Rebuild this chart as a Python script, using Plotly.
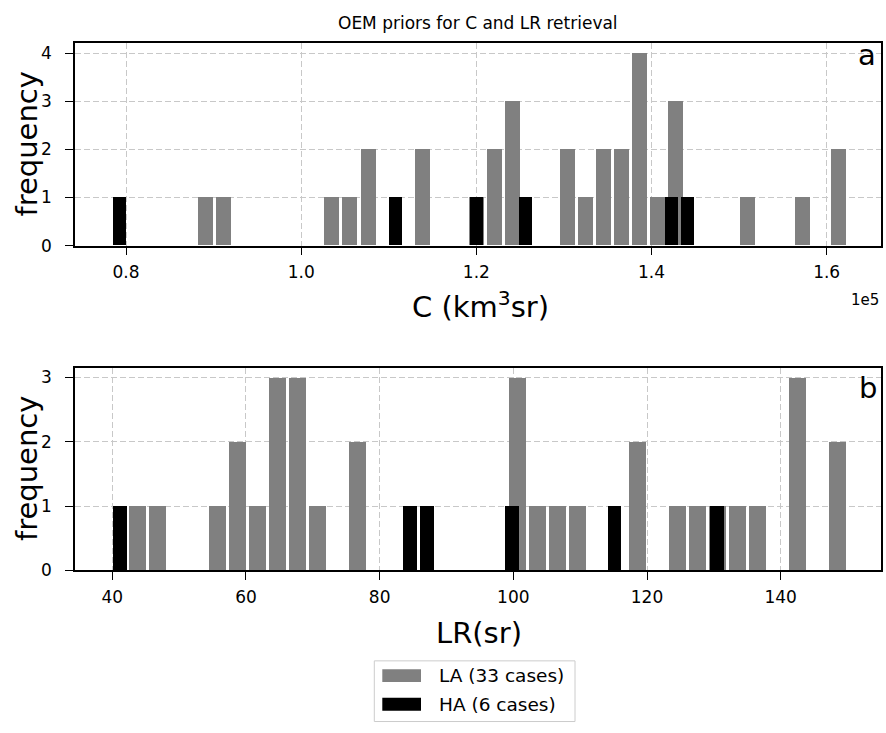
import plotly.graph_objects as go

# ---- histogram bins (bin centre, count) ----
# C (km^3 sr), LA cases
c_la_centers = [89040, 91110, 103500, 105560, 107630, 113830, 120020, 122080, 124150,
                130350, 132410, 134480, 136540, 138610, 140670, 142740, 151000, 157190, 161320]
c_la_counts = [1, 1, 1, 1, 2, 2, 1, 2, 3, 2, 1, 2, 2, 4, 1, 3, 1, 1, 2]
# C (km^3 sr), HA cases
c_ha_centers = [79280, 110760, 120020, 125580, 142250, 144100]
c_ha_counts = [1, 1, 1, 1, 1, 1]

# LR (sr), LA cases
lr_la_centers = [43.74, 46.73, 55.71, 58.70, 61.69, 64.68, 67.68, 70.67, 76.65, 100.59,
                 103.58, 106.57, 109.56, 118.54, 124.52, 127.52, 130.51, 133.50, 136.49,
                 142.48, 148.46]
lr_la_counts = [1, 1, 1, 2, 1, 3, 3, 1, 2, 3, 1, 1, 1, 2, 1, 1, 1, 1, 1, 3, 2]
# LR (sr), HA cases
lr_ha_centers = [41.15, 84.52, 87.07, 99.82, 115.13, 130.44]
lr_ha_counts = [1, 1, 1, 1, 1, 1]

c_ticks = [80000, 100000, 120000, 140000, 160000]
c_ticktext = ["0.8", "1.0", "1.2", "1.4", "1.6"]
lr_ticks = [40, 60, 80, 100, 120, 140]

la_label = "LA (33 cases)"
ha_label = "HA (6 cases)"

# ---- styling ----
W, H = 886, 733
FONT = "DejaVu Sans"
GREY = "#808080"
BLACK = "#000000"
GRID = "#c8c8c8"
TICK_SIZE = 17
LABEL_SIZE = 29

# bar widths in data units (a fraction of each bin's width)
C_LA_W, C_HA_W = 1714, 1519
LR_LA_W, LR_HA_W = 2.50, 2.02


def px_x(x):
    return x / W


def px_y(y):
    return 1 - y / H


fig = go.Figure()

fig.add_trace(go.Bar(x=c_la_centers, y=c_la_counts, width=[C_LA_W] * len(c_la_centers),
                     marker=dict(color=GREY, line=dict(width=0)), name=la_label,
                     xaxis="x", yaxis="y", showlegend=False))
fig.add_trace(go.Bar(x=c_ha_centers, y=c_ha_counts, width=[C_HA_W] * len(c_ha_centers),
                     marker=dict(color=BLACK, line=dict(width=0)), name=ha_label,
                     xaxis="x", yaxis="y", showlegend=False))
fig.add_trace(go.Bar(x=lr_la_centers, y=lr_la_counts, width=[LR_LA_W] * len(lr_la_centers),
                     marker=dict(color=GREY, line=dict(width=0)), name=la_label,
                     xaxis="x2", yaxis="y2", showlegend=False))
fig.add_trace(go.Bar(x=lr_ha_centers, y=lr_ha_counts, width=[LR_HA_W] * len(lr_ha_centers),
                     marker=dict(color=BLACK, line=dict(width=0)), name=ha_label,
                     xaxis="x2", yaxis="y2", showlegend=False))

axis_common = dict(
    showline=True, linecolor="black", linewidth=1.6, mirror=True,
    ticks="outside", ticklen=8, tickwidth=1.4, tickcolor="black",
    showgrid=True, gridcolor=GRID, gridwidth=1.4, griddash="6px,3px",
    zeroline=False, tickfont=dict(family=FONT, size=TICK_SIZE, color="black"),
)

x_dom = [px_x(75), px_x(880.7)]

fig.update_layout(
    width=W, height=H,
    margin=dict(l=0, r=0, t=0, b=0),
    paper_bgcolor="white", plot_bgcolor="white",
    barmode="overlay", bargap=0,
    font=dict(family=FONT, color="black"),
    xaxis=dict(domain=x_dom, anchor="y", range=[74170, 166170],
               tickvals=c_ticks, ticktext=c_ticktext, ticklabelstandoff=2, **axis_common),
    yaxis=dict(domain=[px_y(249), px_y(44)], anchor="x", range=[0, 4.2],
               tickvals=[0, 1, 2, 3, 4], ticklabelstandoff=10, **axis_common),
    xaxis2=dict(domain=x_dom, anchor="y2", range=[34.42, 154.96],
                tickvals=lr_ticks, ticklabelstandoff=2, **axis_common),
    yaxis2=dict(domain=[px_y(578.3), px_y(372.7)], anchor="x2", range=[0, 3.15],
                tickvals=[0, 1, 2, 3], ticklabelstandoff=10, **axis_common),
)

ann = []


def text(x, y, s, size, xanchor="center", yanchor="middle", angle=0):
    ann.append(dict(x=px_x(x), y=px_y(y), xref="paper", yref="paper", text=s,
                    showarrow=False, xanchor=xanchor, yanchor=yanchor, textangle=angle,
                    font=dict(family=FONT, size=size, color="black")))


text(478, 23, "OEM priors for C and LR retrieval", 17)
text(480, 309, "C (km<sup>3</sup>sr)", LABEL_SIZE)
text(479, 642, "LR(sr)", LABEL_SIZE)
text(27, 146.5, "frequency", LABEL_SIZE, angle=-90)
text(27, 475.5, "frequency", LABEL_SIZE, angle=-90)
text(881, 304, "1e5", 15, xanchor="right")
text(878, 56, "a", LABEL_SIZE, xanchor="right")
text(879, 393, "b", LABEL_SIZE, xanchor="right")

# legend
shapes = [
    dict(type="rect", xref="paper", yref="paper", x0=px_x(374.3), x1=px_x(575),
         y0=px_y(731.5), y1=px_y(670), line=dict(color="#cccccc", width=1),
         fillcolor="white", layer="above"),
    dict(type="rect", xref="paper", yref="paper", x0=px_x(382.3), x1=px_x(421),
         y0=px_y(691.5), y1=px_y(678.5), line=dict(width=0), fillcolor=GREY, layer="above"),
    dict(type="rect", xref="paper", yref="paper", x0=px_x(382.3), x1=px_x(421),
         y0=px_y(720.5), y1=px_y(707.5), line=dict(width=0), fillcolor=BLACK, layer="above"),
]
text(436.7, 685, la_label, 18.5, xanchor="left")
text(436.7, 714, ha_label, 18.5, xanchor="left")

fig.update_layout(annotations=ann, shapes=shapes)

fig.write_html("out.html")
